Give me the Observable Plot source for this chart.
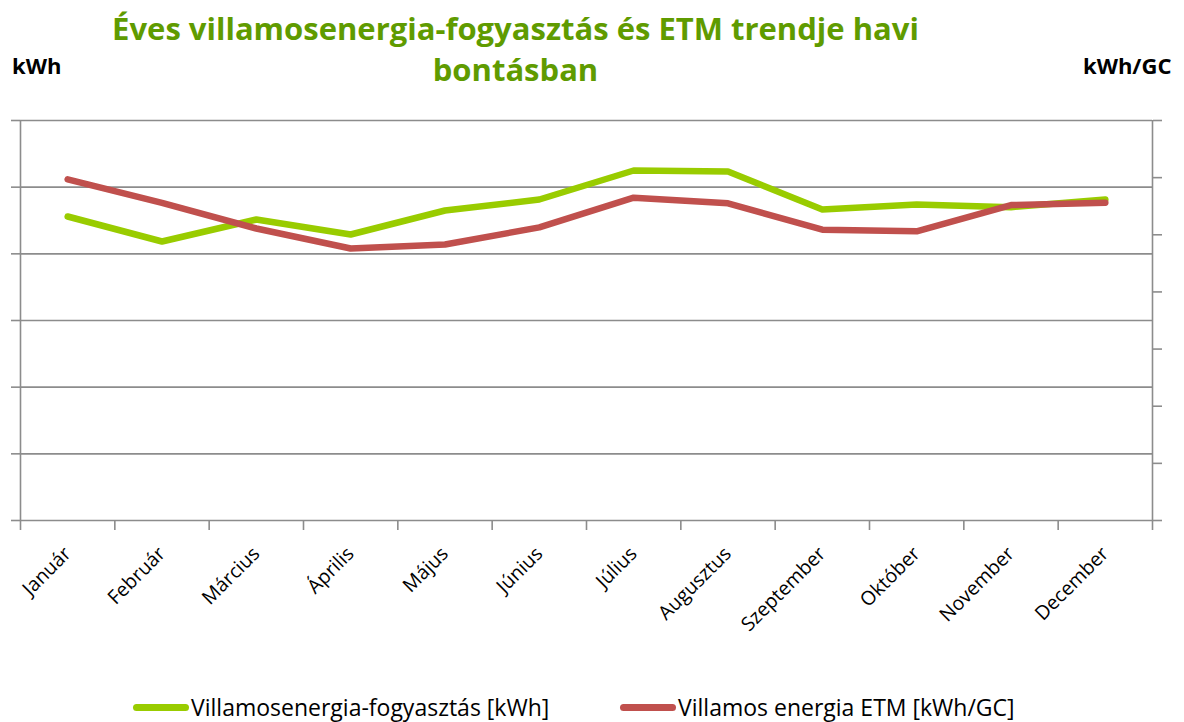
<!DOCTYPE html>
<html>
<head>
<meta charset="utf-8">
<script src="https://cdn.jsdelivr.net/npm/d3@7"></script>
<script src="https://cdn.jsdelivr.net/npm/@observablehq/plot@0.6"></script>
<style>
  html, body { margin: 0; padding: 0; background: #fff; }
  #wrap { position: relative; width: 1184px; height: 722px; overflow: hidden; font-family: "Open Sans", sans-serif; }
  #title { position: absolute; left: 0; width: 1031px; top: 8px; text-align: center; color: #5f9b00; font-weight: bold; font-size: 31px; line-height: 41px; white-space: nowrap; }
  .unit { position: absolute; top: 50px; font-weight: bold; font-size: 22px; color: #000; }
  #legend { position: absolute; top: 694px; left: 0; width: 1184px; font-size: 23px; color: #000; }
  .item { position: absolute; display: flex; align-items: center; white-space: nowrap; line-height: 26px; }
  .swatch { display: inline-block; width: 56px; height: 7px; border-radius: 4px; margin-right: 2px; }
  #chart { position: absolute; left: 0; top: 0; }
</style>
</head>
<body>
<div id="wrap">
  <div id="chart"></div>
  <div id="title">Éves villamosenergia-fogyasztás és ETM trendje havi<br>bontásban</div>
  <div class="unit" style="left:12px">kWh</div>
  <div class="unit" style="left:1083px">kWh/GC</div>
  <div id="legend"></div>
</div>
<script>
const months = ["Január","Február","Március","Április","Május","Június","Július","Augusztus","Szeptember","Október","November","December"];
const consumption = [4560, 4185, 4515, 4290, 4650, 4815, 5250, 5235, 4665, 4740, 4700, 4815];
const etm = [59.7, 55.6, 51.1, 47.6, 48.3, 51.3, 56.5, 55.5, 50.9, 50.6, 55.2, 55.6];
const yTicks = [0, 1000, 2000, 3000, 4000, 5000, 6000];
const y2Ticks = [0, 10, 20, 30, 40, 50, 60, 70];
const seriesNames = ["Villamosenergia-fogyasztás [kWh]", "Villamos energia ETM [kWh/GC]"];
const colors = ["#99cc00", "#c0504d"];

const yMax = 6000, y2Max = 70;
const toY = v => v * yMax / y2Max;

const data1 = months.map((m, i) => ({i, v: consumption[i]}));
const data2 = months.map((m, i) => ({i, v: toY(etm[i])}));
const grey = "#8c8c8c";

const chart = Plot.plot({
  width: 1184,
  height: 722,
  marginTop: 120,
  marginBottom: 202,
  marginLeft: 20,
  marginRight: 32,
  style: {fontFamily: "Open Sans, sans-serif", fontSize: "19.5px", color: "#000", background: "transparent"},
  x: {domain: [-0.5, 11.5]},
  y: {domain: [0, yMax]},
  marks: [
    Plot.gridY(yTicks, {stroke: grey, strokeOpacity: 1, strokeWidth: 1.6}),
    Plot.axisY({ticks: yTicks, tickSize: 9, tickFormat: () => "", stroke: grey, strokeWidth: 1.6, label: null}),
    Plot.axisY({anchor: "right", ticks: y2Ticks.map(toY), tickSize: 9, tickFormat: () => "", stroke: grey, strokeWidth: 1.6, label: null}),
    Plot.ruleX([-0.5, 11.5], {stroke: grey, strokeWidth: 1.6}),
    Plot.axisX({ticks: d3.range(13).map(k => k - 0.5), tickSize: 10, tickFormat: () => "", stroke: grey, strokeWidth: 1.6, label: null}),
    Plot.axisX({ticks: d3.range(12), tickSize: 0, tickPadding: 30, tickRotate: -45, tickFormat: i => months[i], label: null, fontSize: 19.5, fill: "#000"}),
    Plot.lineY(data1, {x: "i", y: "v", stroke: colors[0], strokeWidth: 6.5, strokeLinecap: "round", strokeLinejoin: "round"}),
    Plot.lineY(data2, {x: "i", y: "v", stroke: colors[1], strokeWidth: 6.5, strokeLinecap: "round", strokeLinejoin: "round"})
  ]
});
document.getElementById("chart").appendChild(chart);

const legend = document.getElementById("legend");
const lefts = [133, 620];
seriesNames.forEach((name, k) => {
  const it = document.createElement("div");
  it.className = "item";
  it.style.left = lefts[k] + "px";
  it.innerHTML = `<span class="swatch" style="background:${colors[k]}"></span><span>${name}</span>`;
  legend.appendChild(it);
});
</script>
</body>
</html>
